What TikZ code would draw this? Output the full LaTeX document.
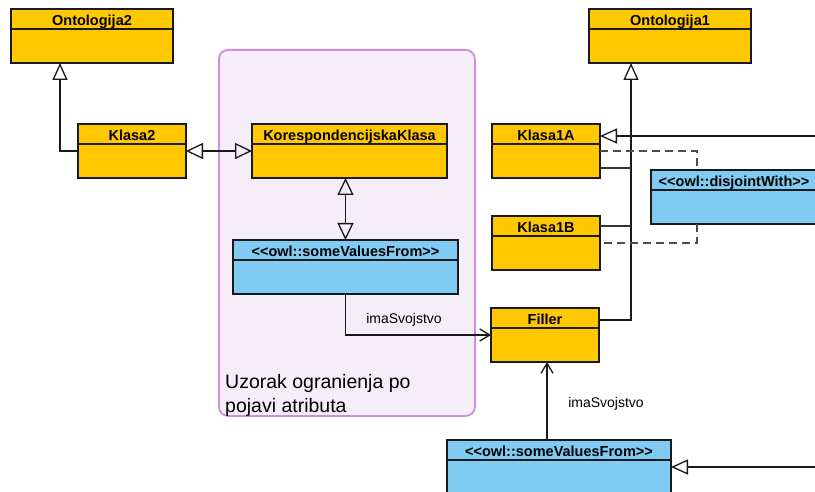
\documentclass[tikz,border=0pt]{standalone}
\usepackage{fontspec}
\setmainfont{Liberation Sans}[Ligatures=TeXOff]
\usetikzlibrary{arrows.meta}
\definecolor{clsyellow}{HTML}{FFC800}
\definecolor{clsblue}{HTML}{7FCBF2}
\definecolor{grpfill}{HTML}{F5EEF9}
\definecolor{grpline}{HTML}{CC8FE0}

\begin{document}
\begin{tikzpicture}[x=1pt,y=-1pt,
  umlbox/.style={draw=black!90,line width=1.2pt,anchor=north west,minimum height=54pt,inner sep=0pt,outer sep=0pt},
  hdr/.style={font=\bfseries\fontsize{14.5}{16}\selectfont,inner sep=0pt,anchor=base},
  lbl/.style={font=\fontsize{14}{16}\selectfont,inner sep=0pt},
  grptxt/.style={font=\fontsize{19.5}{24}\selectfont,anchor=base west,inner sep=0pt},
  gen/.style={line width=1.3pt,draw=black!90,-{Triangle[open,length=17pt,width=15pt]}},
  gen2/.style={line width=1.3pt,draw=black!90,{Triangle[open,length=17pt,width=16pt]}-{Triangle[open,length=17pt,width=16pt]}},
  dep/.style={line width=1.3pt,draw=black!90,-{Straight Barb[length=10pt,width=12pt]}},
  tree/.style={line width=1.3pt,draw=black!80},
  disj/.style={line width=1.3pt,draw=black!70,dash pattern=on 8pt off 5pt}]
\clip (0,0) rectangle (815,492);
% pattern group
\node[draw=grpline,fill=grpfill,line width=1.8pt,rounded corners=9pt,anchor=north west,
  minimum width=256pt,minimum height=366pt,inner sep=0pt] (grp) at (218,49) {};
\node[grptxt] (grpa) at (225,388) {Uzorak ogranienja po};
\node[grptxt] (grpb) at (225,412) {pojavi atributa};
% classes
\foreach \n/\x/\y/\w/\col/\txt in {
  o2/11/9/162/clsyellow/Ontologija2,
  k2/78/124/108/clsyellow/Klasa2,
  kk/252/124/195/clsyellow/KorespondencijskaKlasa,
  sv1/233/240/225/clsblue/<<owl::someValuesFrom>>,
  o1/589/9/162/clsyellow/Ontologija1,
  k1a/492/124/108/clsyellow/Klasa1A,
  k1b/492/216/108/clsyellow/Klasa1B,
  dj/651/170/166/clsblue/<<owl::disjointWith>>,
  fil/491/308/108/clsyellow/Filler,
  sv2/447/440/224/clsblue/<<owl::someValuesFrom>>} {
  \node[umlbox,fill=\col,minimum width=\w pt] (\n) at (\x,\y) {};
  \draw[line width=1.2pt,draw=black!90] ([yshift=-20pt]\n.north west) -- ([yshift=-20pt]\n.north east);
  \node[hdr] (\n t) at ([yshift=-16.5pt]\n.north) {\txt};
}
% left part
\draw[gen] (k2.west) -| ([xshift=49pt]o2.south west);
\draw[gen2] (k2.east) -- (kk.west);
\draw[gen2] (kk.south -| sv1.north) -- (sv1.north);
\draw[dep] (sv1.south) |- (fil.west);
\node[lbl] (lbl1) at (404,320) {imaSvojstvo};
% right part
\coordinate (trunk) at ([xshift=42pt]o1.south west);
\draw[gen] ([yshift=-12pt]fil.north east) -| (trunk);
\coordinate (k1aj) at ([yshift=10pt]k1a.south east);
\coordinate (k1bj) at ([yshift=-10pt]k1b.north east);
\draw[tree] (k1aj) -- (k1aj -| trunk);
\draw[tree] (k1bj) -- (k1bj -| trunk);
\draw[disj] (k1a.east) -| ([xshift=46pt]dj.north west);
\draw[disj] ([xshift=46pt]dj.south west) |- (k1b.east);
\coordinate (r1) at (815,136);
\coordinate (r2) at (815,467);
\draw[gen] (r1) -- (r1 -| k1a.east);
\draw[gen] (r2) -- (r2 -| sv2.east);
\coordinate (sv2j) at ([xshift=100pt]sv2.north west);
\draw[dep] (sv2j) -- (sv2j |- fil.south);
\node[lbl] (lbl2) at (606,404) {imaSvojstvo};
\end{tikzpicture}
\end{document}
